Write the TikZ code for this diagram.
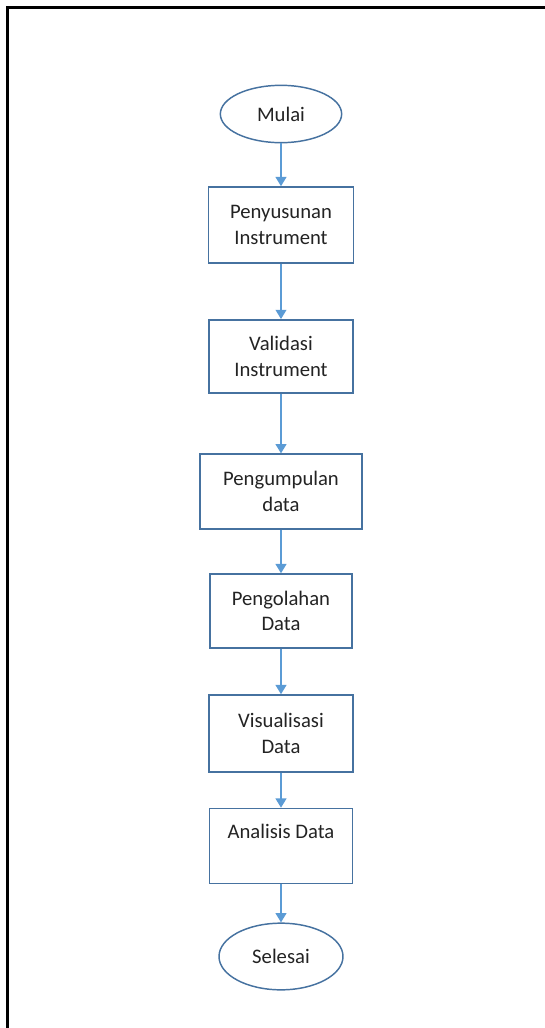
\documentclass[tikz,border=0pt]{standalone}
\usepackage{fontspec}
\setmainfont{Carlito}
\usetikzlibrary{shapes.geometric,arrows.meta}
\definecolor{boxline}{RGB}{70,114,160}
\definecolor{arrowcol}{RGB}{91,155,213}
\definecolor{txtcol}{RGB}{35,35,35}
\tikzset{
  stepbox/.style={draw=boxline, line width=1.1pt, rectangle, align=center, text=txtcol,
    font=\fontsize{15.5}{19}\selectfont, inner sep=0pt},
  termnode/.style={draw=boxline, line width=1.1pt, ellipse, align=center, text=txtcol,
    font=\fontsize{15.5}{19}\selectfont, inner sep=0pt},
  flow/.style={draw=arrowcol, line width=1.5pt, -{Triangle[width=8pt,length=7pt]}}
}
\begin{document}
\begin{tikzpicture}[x=0.75pt,y=-0.75pt]
\useasboundingbox (0,0) rectangle (545,1028);
\draw[line width=2.2pt, black] (7.5,1030) -- (7.5,7.5) -- (547,7.5);
\node[termnode, minimum width=91pt, minimum height=43pt] (start) at (281,114) {Mulai};
\node[stepbox, minimum width=108.75pt, minimum height=57pt] (b1) at (281,225) {Penyusunan\\Instrument};
\node[stepbox, minimum width=108pt, minimum height=55pt] (b2) at (281,356.5) {Validasi\\Instrument};
\node[stepbox, minimum width=121.5pt, minimum height=56pt] (b3) at (281,491.5) {Pengumpulan\\data};
\node[stepbox, minimum width=106.5pt, minimum height=55.5pt] (b4) at (281,611) {Pengolahan\\Data};
\node[stepbox, minimum width=108pt, minimum height=57.75pt] (b5) at (281,733.5) {Visualisasi\\Data};
\node[stepbox, minimum width=107.25pt, minimum height=56.25pt,
  label={[anchor=center, yshift=-17.5pt, text=txtcol, font=\fontsize{15.5}{19}\selectfont]north:Analisis Data}] (b6) at (281,846) {};
\node[termnode, minimum width=93pt, minimum height=50pt] (end) at (281,956.5) {Selesai};
\draw[flow] (start) -- (b1);
\draw[flow] (b1) -- (b2);
\draw[flow] (b2) -- (b3);
\draw[flow] (b3) -- (b4);
\draw[flow] (b4) -- (b5);
\draw[flow] (b5) -- (b6);
\draw[flow] (b6) -- (end);
\end{tikzpicture}
\end{document}
